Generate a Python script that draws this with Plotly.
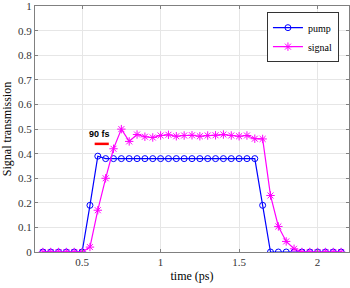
import numpy as np
import plotly.graph_objects as go

time_ps = [round(0.25 + 0.05 * i, 2) for i in range(39)]

pump = [0, 0, 0, 0, 0, 0,
        0.19, 0.39,
        0.38, 0.38, 0.38, 0.38, 0.38, 0.38, 0.38, 0.38, 0.38, 0.38,
        0.38, 0.38, 0.38, 0.38, 0.38, 0.38, 0.38, 0.38, 0.38, 0.38,
        0.19,
        0, 0, 0, 0, 0, 0, 0, 0, 0, 0]

signal = [0, 0, 0, 0, 0, 0,
          0.02, 0.17, 0.30, 0.42, 0.50, 0.45, 0.478, 0.469, 0.466,
          0.474, 0.477, 0.471, 0.474, 0.475, 0.471, 0.474, 0.475, 0.478,
          0.474, 0.471, 0.474, 0.461, 0.46,
          0.23, 0.104, 0.043, 0.013,
          0, 0, 0, 0, 0, 0]

x_ticks = [0.5, 1, 1.5, 2]
y_ticks = [0, 0.1, 0.2, 0.3, 0.4, 0.5, 0.6, 0.7, 0.8, 0.9, 1]
y_labels = ["0", "0.1", "0.2", "0.3", "0.4", "0.5", "0.6", "0.7", "0.8", "0.9", "1"]

annot_text = "90 fs"
annot_span = [0.58, 0.67]
annot_level = 0.44

serif = "Liberation Serif, Times New Roman, serif"

fig = go.Figure()
fig.add_trace(go.Scatter(
    x=time_ps, y=pump, name="pump", mode="lines+markers",
    line=dict(color="#0000FF", width=1.2),
    marker=dict(symbol="circle-open", size=6, color="#0000FF", line=dict(width=1))))
fig.add_trace(go.Scatter(
    x=time_ps, y=signal, name="signal", mode="lines+markers",
    line=dict(color="#FF00FF", width=1.2),
    marker=dict(symbol="asterisk-open", size=7, color="#FF00FF", line=dict(width=1, color="#FF00FF"))))

fig.add_trace(go.Scatter(
    x=annot_span, y=[annot_level, annot_level], mode="lines",
    line=dict(color="#FF0000", width=2.5), showlegend=False, hoverinfo="skip"))

fig.add_annotation(x=0.608, y=0.479, text="<b>" + annot_text + "</b>", showarrow=False,
                   font=dict(family="Liberation Sans, Arial, sans-serif", size=9, color="#000"))

axis_common = dict(showline=True, linecolor="#808080", linewidth=1, mirror="ticks",
                   ticks="inside", ticklen=3, tickcolor="#808080",
                   showgrid=True, gridcolor="#E6E6E6", gridwidth=1, zeroline=False,
                   tickfont=dict(family=serif, size=11, color="#333"))

fig.update_layout(
    width=350, height=288,
    margin=dict(l=35, r=1, t=6, b=36),
    paper_bgcolor="white", plot_bgcolor="white",
    xaxis=dict(range=[0.2, 2.2], tickvals=x_ticks, ticktext=["0.5", "1", "1.5", "2"],
               title=dict(text="time (ps)", font=dict(family=serif, size=12, color="#000"), standoff=4),
               **axis_common),
    yaxis=dict(range=[0, 1.001], tickvals=y_ticks, ticktext=y_labels,
               title=dict(text="Signal transmission", font=dict(family=serif, size=12, color="#000"), standoff=4),
               **axis_common),
    legend=dict(x=0.968, y=0.975, xanchor="right", yanchor="top",
                bgcolor="white", bordercolor="#333", borderwidth=1,
                font=dict(family=serif, size=10, color="#000"),
                tracegroupgap=0, itemwidth=30),
    showlegend=True,
)

fig.write_html("out.html", config={"displayModeBar": False},
               post_script="document.body.style.margin='0';")
